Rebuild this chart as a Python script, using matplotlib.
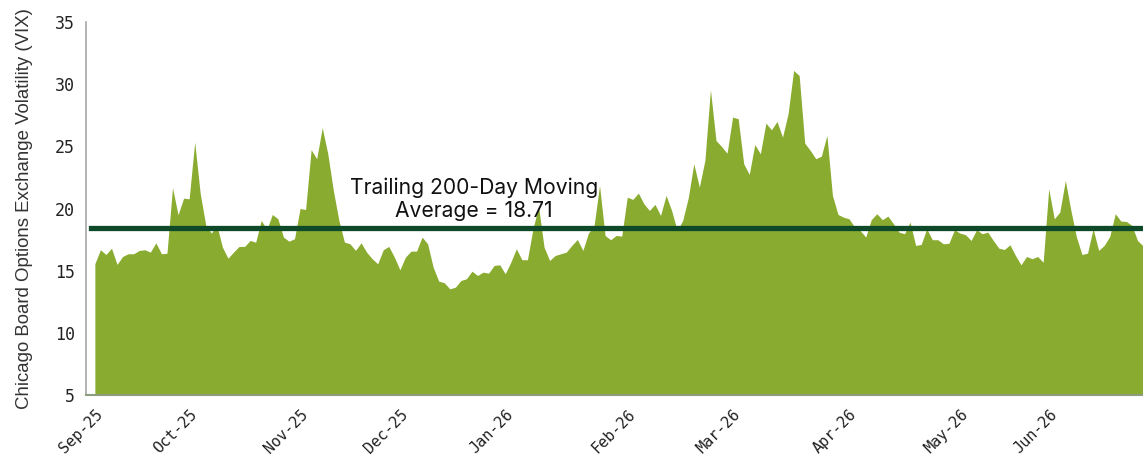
import matplotlib
matplotlib.use("Agg")
import matplotlib.pyplot as plt

# VIX closes, in order (one value per vertex of the area)
vix = [
    15.56, 16.68, 16.30, 16.81, 15.50, 16.14, 16.36, 16.36, 16.63, 16.68,
    16.49, 17.24, 16.36, 16.40, 21.67, 19.50, 20.83, 20.78, 25.34, 21.19,
    18.64, 18.02, 18.64, 16.89, 16.00, 16.49, 16.95, 16.95, 17.43, 17.29,
    19.04, 18.31, 19.52, 19.17, 17.70, 17.37, 17.57, 20.00, 19.92, 24.73,
    24.00, 26.50, 24.40, 21.45, 19.04, 17.30, 17.16, 16.63, 17.24, 16.49,
    15.96, 15.55, 16.68, 16.95, 16.09, 15.07, 16.09, 16.57, 16.57, 17.70,
    17.16, 15.28, 14.16, 14.03, 13.54, 13.67, 14.21, 14.35, 14.96, 14.61,
    14.88, 14.80, 15.42, 15.47, 14.75, 15.68, 16.76, 15.88, 15.88, 18.37,
    20.16, 16.89, 15.82, 16.22, 16.36, 16.49, 17.03, 17.51, 16.63, 18.02,
    18.56, 21.85, 17.83, 17.49, 17.83, 17.78, 20.91, 20.73, 21.24, 20.38,
    19.84, 20.33, 19.44, 21.05, 19.84, 18.23, 19.04, 20.86, 23.60, 21.72,
    23.87, 29.55, 25.47, 24.99, 24.45, 27.35, 27.22, 23.60, 22.74, 25.15,
    24.40, 26.87, 26.33, 27.00, 25.74, 27.62, 31.10, 30.70, 25.26, 24.67,
    24.00, 24.21, 25.88, 21.05, 19.52, 19.30, 19.17, 18.50, 18.23, 17.70,
    19.10, 19.58, 19.10, 19.39, 18.77, 18.10, 17.97, 18.90, 17.03, 17.11,
    18.37, 17.49, 17.49, 17.16, 17.20, 18.29, 18.02, 17.89, 17.43, 18.29,
    17.97, 18.10, 17.43, 16.81, 16.70, 17.08, 16.22, 15.47, 16.14, 15.96,
    16.14, 15.68, 21.59, 19.17, 19.71, 22.26, 19.84, 17.70, 16.30, 16.41,
    18.37, 16.63, 17.03, 17.75, 19.58, 18.99, 18.96, 18.64, 17.43, 17.00,
]

month_labels = ["Sep-25", "Oct-25", "Nov-25", "Dec-25", "Jan-26",
                "Feb-26", "Mar-26", "Apr-26", "May-26", "Jun-26"]
# index of the point where each month label sits
month_pos = [1, 18, 38, 56, 75, 97, 116, 137, 157, 173]

avg_line = 18.45
avg_text = "Trailing 200-Day Moving\nAverage = 18.71"

fill_col = "#89ab2f"
line_col = "#0e4a2a"

fig = plt.figure(figsize=(11.43, 4.55), dpi=100)
ax = fig.add_axes([86 / 1143, 1 - 395 / 455, 1 - 86 / 1143, (395 - 22) / 455])

x = list(range(len(vix)))
ax.fill_between(x, 5, vix, color=fill_col, linewidth=0)
ax.axhline(avg_line, xmin=0.005, xmax=1, color=line_col, linewidth=3.8)

ax.text(68.4, 20.75, avg_text, ha="center", va="center", fontsize=15.2,
        family="Inter", color="#111111", linespacing=1.18)

ax.set_xlim(-1.6, len(vix) - 1)
ax.set_ylim(5, 35)
ax.set_yticks([5, 10, 15, 20, 25, 30, 35])

ax.set_xticks(month_pos)
ax.set_xticklabels(month_labels, rotation=45, ha="right", va="center",
                   rotation_mode="anchor", family="DejaVu Sans Mono",
                   fontsize=11, color="#222222")
for lab in ax.get_yticklabels():
    lab.set_family("DejaVu Sans Mono")
    lab.set_fontsize(12)
    lab.set_color("#222222")
ax.tick_params(axis="both", length=0)
ax.tick_params(axis="y", pad=8)
ax.tick_params(axis="x", pad=12)

ax.set_ylabel("Chicago Board Options Exchange Volatility (VIX)",
              family="Liberation Sans", fontsize=13.4, color="#333333", labelpad=16)

ax.spines["top"].set_visible(False)
ax.spines["right"].set_visible(False)
ax.spines["left"].set_color("#a6a6a6")
ax.spines["bottom"].set_color("#8c9c7c")
ax.spines["left"].set_linewidth(1.2)
ax.spines["bottom"].set_linewidth(1.5)

fig.savefig("out.png", dpi=100)
